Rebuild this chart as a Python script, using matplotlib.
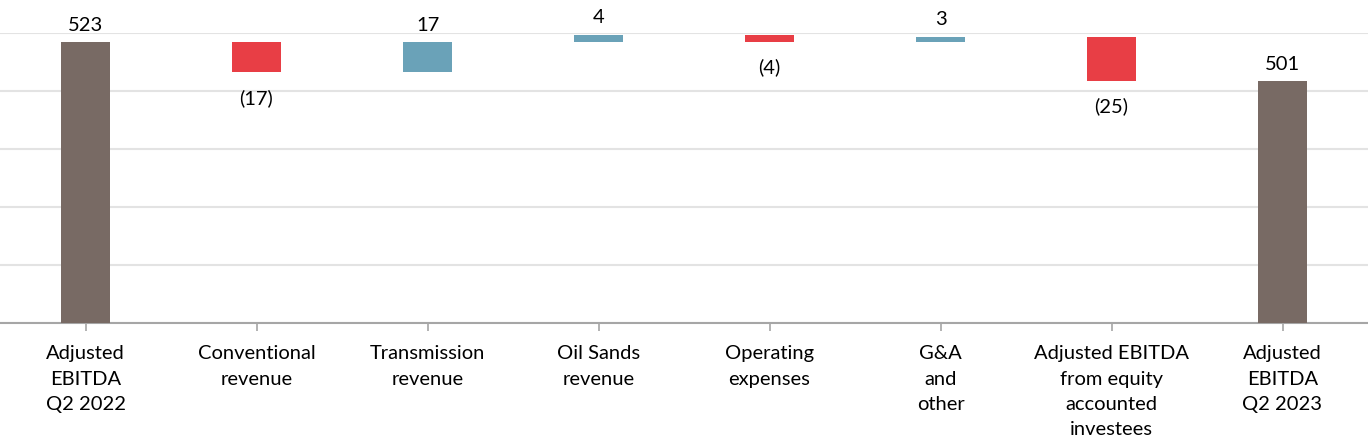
import numpy as np
import matplotlib.pyplot as plt

plt.rcParams['font.family'] = ['Lato', 'DejaVu Sans']

# Waterfall data
categories = ['Adjusted\nEBITDA\nQ2 2022', 'Conventional\nrevenue', 'Transmission\nrevenue',
              'Oil Sands\nrevenue', 'Operating\nexpenses', 'G&A\nand\nother',
              'Adjusted EBITDA\nfrom equity\naccounted\ninvestees', 'Adjusted\nEBITDA\nQ2 2023']
start_value = 523
changes = [-17, 17, 4, -4, 3, -25]
end_value = 501

total_color = '#786a64'
up_color = '#6aa2b8'
down_color = '#e83e45'

fig = plt.figure(figsize=(13.68, 4.4), dpi=100)
ax = fig.add_axes([0, 0.266, 1, 0.659])

y_bottom, y_top = 365, 528
width = 0.29

# build bars
bottoms, heights, colors, labels = [], [], [], []
bottoms.append(y_bottom); heights.append(start_value - y_bottom)
colors.append(total_color); labels.append(str(start_value))
running = start_value
for c in changes:
    lo = min(running, running + c)
    bottoms.append(lo); heights.append(abs(c))
    colors.append(up_color if c > 0 else down_color)
    labels.append(str(c) if c > 0 else '(%d)' % -c)
    running += c
bottoms.append(y_bottom); heights.append(end_value - y_bottom)
colors.append(total_color); labels.append(str(end_value))

x = np.arange(len(categories))
ax.bar(x, heights, bottom=bottoms, width=width, color=colors, zorder=3)

vals = [start_value] + changes + [end_value]
for i in range(len(x)):
    if vals[i] >= 0:
        ax.annotate(labels[i], (x[i], bottoms[i] + heights[i]), xytext=(0, 6),
                    textcoords='offset points', ha='center', va='bottom',
                    fontsize=14.5, annotation_clip=False)
    else:
        ax.annotate(labels[i], (x[i], bottoms[i]), xytext=(0, -12),
                    textcoords='offset points', ha='center', va='top',
                    fontsize=14.5, annotation_clip=False)

ax.set_xlim(-0.5, len(categories) - 0.5)
ax.set_ylim(y_bottom, y_top)
ax.set_yticks(np.linspace(y_bottom, y_top, 6))
ax.yaxis.grid(True, color='#e3e3e3', linewidth=1.5, zorder=0)
ax.tick_params(axis='y', left=False, labelleft=False)
ax.set_xticks(x)
ax.set_xticklabels(categories, fontsize=14.5, linespacing=1.6)
ax.tick_params(axis='x', direction='out', length=6, width=1.2, color='#a6a6a6', pad=10)
for s in ['top', 'left', 'right']:
    ax.spines[s].set_visible(False)
ax.spines['bottom'].set_color('#a6a6a6')
ax.spines['bottom'].set_linewidth(1.5)

fig.savefig('out.png', dpi=100)
